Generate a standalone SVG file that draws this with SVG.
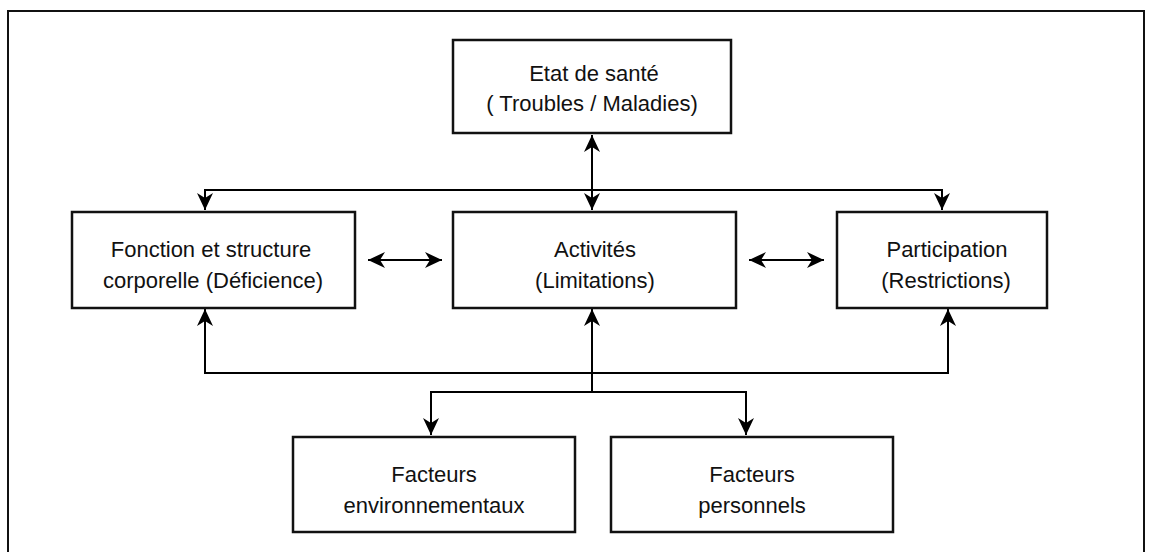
<svg xmlns="http://www.w3.org/2000/svg" width="1149" height="552" viewBox="0 0 1149 552">
<style>
.box{fill:#fff;stroke:#111;stroke-width:2.5}
.frame{fill:none;stroke:#111;stroke-width:2}
.ln{fill:none;stroke:#000;stroke-width:2}
.arr{marker-start:url(#ah);marker-end:url(#ah)}
.one{marker-end:url(#ah)}
text{font-family:"Liberation Sans",Arial,sans-serif;font-size:22px;fill:#111;text-anchor:middle}
</style>
<defs>
<marker id="ah" viewBox="-18 -9 19 18" refX="0" refY="0" markerWidth="19" markerHeight="18" markerUnits="userSpaceOnUse" orient="auto-start-reverse">
<path d="M0,0 L-17,-8 L-12,0 L-17,8 Z" fill="#000"/>
</marker>
</defs>
<rect class="frame" x="8" y="11" width="1136" height="560"/>
<g id="connectors">
<line class="ln arr" x1="592" y1="135" x2="592" y2="210"/>
<path class="ln arr" d="M205,210 L205,190 L942,190 L942,210"/>
<path class="ln arr" d="M205,309 L205,373 L948,373 L948,309"/>
<line class="ln one" x1="592" y1="392" x2="592" y2="309"/>
<path class="ln arr" d="M431,435 L431,392 L746,392 L746,435"/>
<line class="ln arr" x1="368" y1="260" x2="442" y2="260"/>
<line class="ln arr" x1="749" y1="260" x2="824" y2="260"/>
</g>
<g id="etat">
<rect class="box" x="453" y="40" width="278" height="93"/>
<text x="594" y="81">Etat de santé</text>
<text x="592" y="111">( Troubles / Maladies)</text>
</g>
<g id="fonction">
<rect class="box" x="72" y="212" width="283" height="96"/>
<text x="211" y="257">Fonction et structure</text>
<text x="213" y="288">corporelle (Déficience)</text>
</g>
<g id="activites">
<rect class="box" x="453" y="212" width="283" height="96"/>
<text x="595" y="257">Activités</text>
<text x="595" y="288">(Limitations)</text>
</g>
<g id="participation">
<rect class="box" x="837" y="212" width="210" height="96"/>
<text x="947" y="257">Participation</text>
<text x="946" y="288">(Restrictions)</text>
</g>
<g id="env">
<rect class="box" x="293" y="437" width="282" height="95"/>
<text x="434" y="482">Facteurs</text>
<text x="434" y="513">environnementaux</text>
</g>
<g id="pers">
<rect class="box" x="611" y="437" width="282" height="95"/>
<text x="752" y="482">Facteurs</text>
<text x="752" y="513">personnels</text>
</g>
</svg>
